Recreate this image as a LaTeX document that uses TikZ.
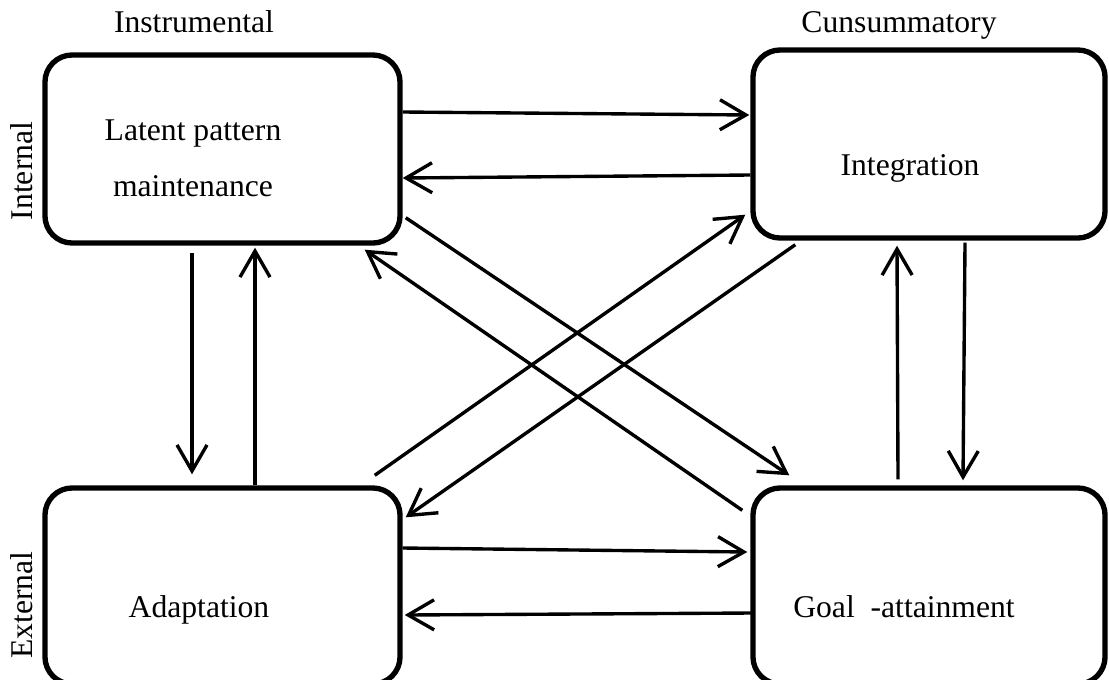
\documentclass[tikz,border=0pt]{standalone}
\usepackage{fontspec}
\setmainfont{Liberation Serif}
\usetikzlibrary{calc,arrows.meta}

\tikzset{
  unit/.style={draw, line width=3.8pt, rounded corners=0.68cm,
    minimum width=8.875cm, minimum height=4.7cm, inner sep=0pt},
  flow/.style={line width=2.4pt, -{Straight Barb[length=6.5mm,width=7.5mm]}},
  txt/.style={font=\fontsize{22.5}{40}\selectfont, inner sep=0pt},
}

\begin{document}
\begin{tikzpicture}[x=0.025cm, y=-0.025cm]
\clip (0,0) rectangle (1109,679);

% Four functional boxes
\node[unit] (lpm) at (222.5,149) {};
\node[unit, minimum width=8.8cm] (integ) at (929,144) {};
\node[unit, minimum height=4.9cm] (adapt) at (222.5,586) {};
\node[unit, minimum width=8.8cm, minimum height=4.9cm] (goal) at (929,586) {};

% Box texts
\node[txt, align=center] (lpmtxt) at (193,158) {Latent pattern\\maintenance};
\node[txt, anchor=base] (integtxt) at (910,175) {Integration};
\node[txt, anchor=base] (adapttxt) at (199,617) {Adaptation};
\node[txt, anchor=base] (goaltxt) at (904,617) {Goal~~-attainment};

% Axis labels
\node[txt, anchor=base] (instr) at (194,32) {Instrumental};
\node[txt, anchor=base] (cons) at (899,32) {Cunsummatory};
\node[txt, rotate=90] (intl) at (22,171) {Internal};
\node[txt, rotate=90] (extl) at (22,605) {External};

% Top row
\draw[flow] ($(lpm.east)+(0,-37)$) -- ($(integ.west)+(-1,-29)$);
\draw[flow] ($(integ.west)+(0,31)$) -- ($(lpm.east)+(0,29)$);

% Left column
\draw[flow] ($(lpm.south)+(-30.5,7)$) -- ($(adapt.north)+(-30.5,-11)$);
\draw[flow] ($(adapt.north)+(32.5,0)$) -- ($(lpm.south)+(32.5,2)$);

% Right column
\draw[flow] ($(integ.south)+(36,2)$) -- ($(goal.north)+(34,-5)$);
\draw[flow] ($(goal.north)+(-31,-6)$) -- ($(integ.south)+(-32,5)$);

% Bottom row
\draw[flow] ($(adapt.east)+(0,-38)$) -- ($(goal.west)+(-3,-34)$);
\draw[flow] ($(goal.west)+(2,27)$) -- ($(adapt.east)+(2,29)$);

% Diagonals
\draw[flow] ($(lpm.south east)+(3,-28)$) -- ($(goal.north west)+(39,-10)$);
\draw[flow] ($(goal.north west)+(-8,25)$) -- ($(lpm.south east)+(-38,4)$);
\draw[flow] ($(adapt.north east)+(-28,-10)$) -- ($(integ.south west)+(-5,-26)$);
\draw[flow] ($(integ.south west)+(45,4)$) -- ($(adapt.north east)+(3,32)$);
\end{tikzpicture}
\end{document}
